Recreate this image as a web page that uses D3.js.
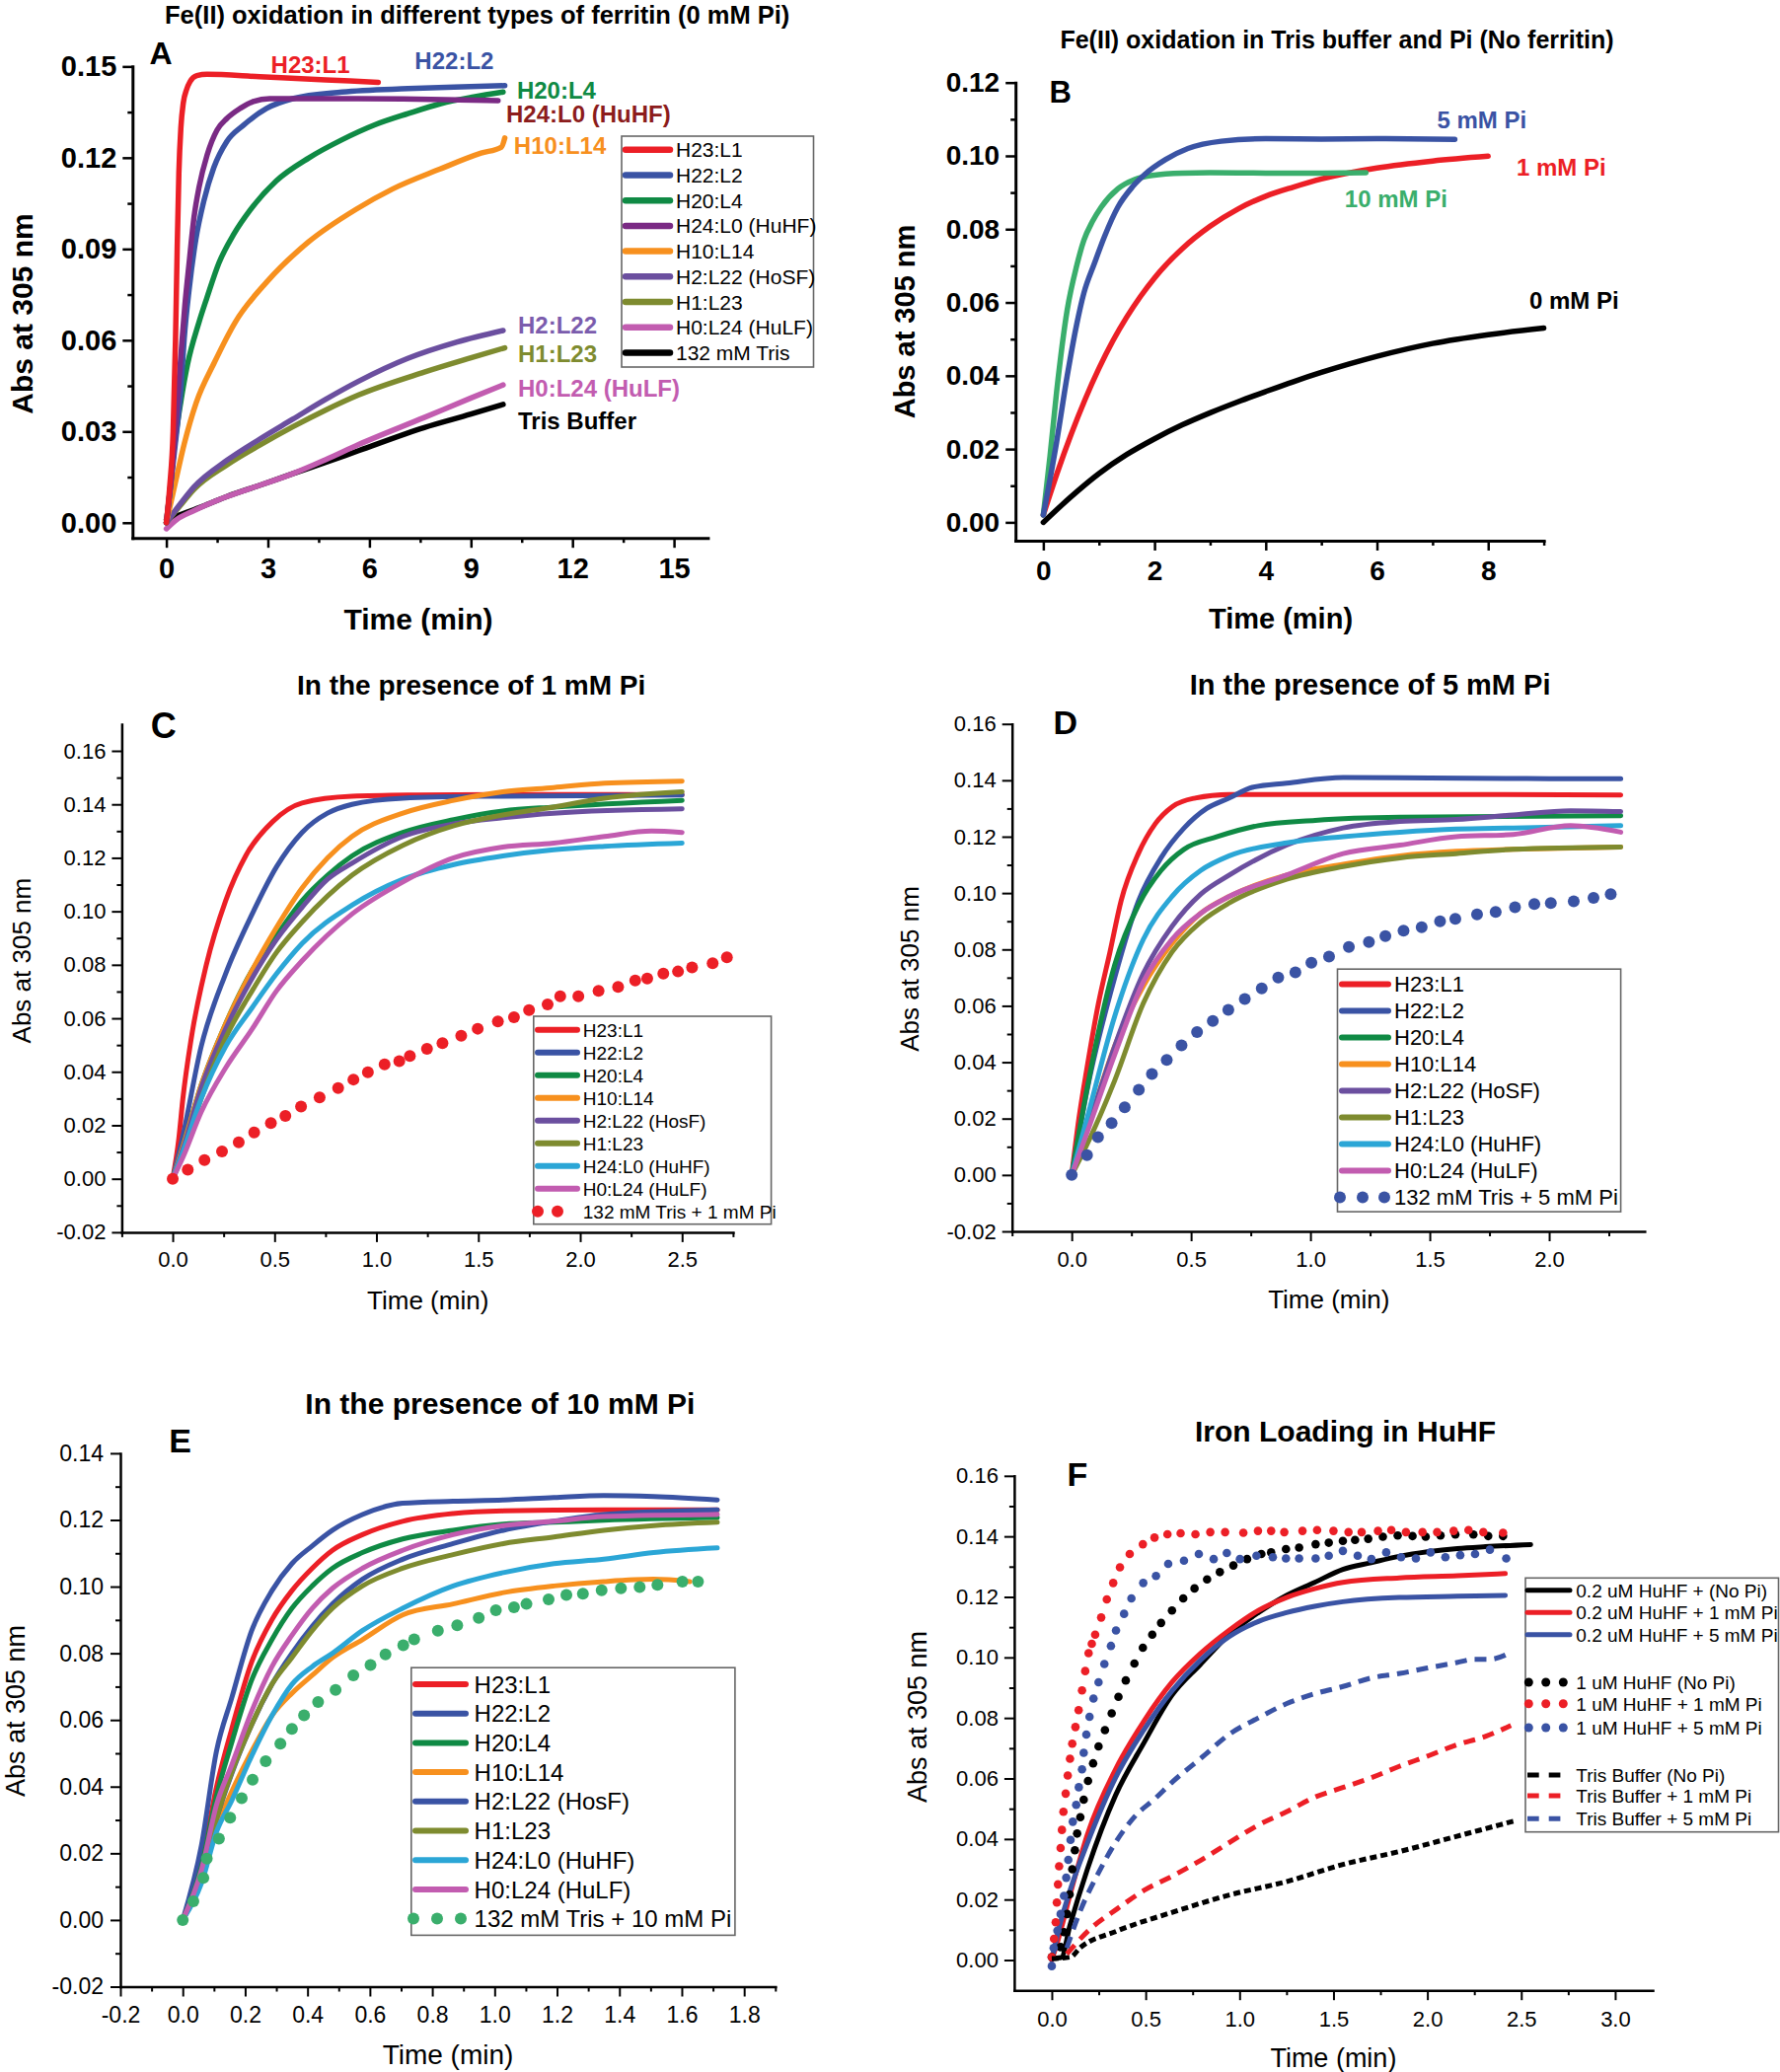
<!DOCTYPE html>
<html><head><meta charset="utf-8">
<script src="https://cdn.jsdelivr.net/npm/d3@7"></script>
<style>body{margin:0;background:#fff}</style>
</head><body>
<svg id="fig" width="1804" height="2100" xmlns="http://www.w3.org/2000/svg"></svg>
<script>
// ================= DATA =================
// ---- Panel A : 0 mM Pi, different ferritins (time min, Abs) ----
const A_H23L1 = [[0,0],[0.1,0.012],[0.2,0.03],[0.27,0.06],[0.32,0.09],[0.37,0.115],[0.43,0.13],[0.5,0.138],[0.6,0.1425],[0.7,0.145],[0.9,0.147],[1.2,0.1474],[2.76,0.1466],[4.71,0.1456],[6.26,0.1448]];
const A_H22L2 = [[0,0],[0.23,0.0226],[0.43,0.0443],[0.527,0.0605],[0.672,0.0767],[0.867,0.0929],[1.11,0.1059],[1.4,0.1167],[1.79,0.1254],[2.28,0.1307],[2.96,0.1362],[3.73,0.1394],[5.19,0.1416],[7.14,0.1427],[8.5,0.1432],[10,0.1437]];
const A_H20L4 = [[0,0],[0.1,0.01],[0.236,0.025],[0.43,0.04],[0.624,0.052],[0.964,0.0659],[1.2,0.074],[1.55,0.0853],[2.0,0.095],[2.47,0.1027],[3.25,0.1124],[4.22,0.12],[5.19,0.1259],[6.16,0.1308],[7.14,0.1345],[8.11,0.1378],[9.08,0.14],[9.95,0.1416]];
const A_H24L0 = [[0,0],[0.15,0.015],[0.285,0.0334],[0.43,0.0551],[0.546,0.0713],[0.672,0.0853],[0.818,0.1005],[0.964,0.1102],[1.207,0.121],[1.499,0.1291],[1.79,0.1329],[2.18,0.1362],[2.57,0.1385],[3.05,0.1394],[5,0.1394],[7,0.1393],[9.8,0.1388]];
const A_H10L14 = [[0,0],[0.26,0.0129],[0.53,0.026],[0.88,0.0394],[1.42,0.0527],[2.04,0.066],[2.97,0.0792],[4.21,0.0924],[5.6,0.103],[6.68,0.1097],[8.07,0.1162],[9.3,0.1215],[9.9,0.1235],[10,0.1265]];
const A_H2L22 = [[0,0],[0.4,0.006],[0.82,0.0118],[1.79,0.0205],[2.76,0.0275],[3.73,0.034],[4.7,0.0405],[5.68,0.0465],[7.13,0.054],[8.59,0.0594],[9.95,0.0632]];
const A_H1L23 = [[0,0],[0.4,0.0055],[0.82,0.011],[1.79,0.019],[2.76,0.0255],[3.73,0.0315],[4.7,0.037],[5.68,0.042],[7.62,0.0495],[9,0.0542],[10,0.0575]];
const A_H0L24 = [[0,-0.002],[0.3,0.001],[0.82,0.004],[1.79,0.0086],[2.81,0.0125],[3.73,0.0161],[4.7,0.0207],[5.68,0.0257],[7.62,0.0346],[9,0.041],[9.95,0.0453]];
const A_Tris = [[0,0.001],[0.5,0.003],[0.82,0.0043],[1.79,0.0086],[2.81,0.0125],[3.73,0.0161],[4.7,0.0198],[5.68,0.0237],[7.62,0.0313],[9,0.0357],[9.95,0.0389]];
const A_names = ["H23:L1","H22:L2","H20:L4","H24:L0 (HuHF)","H10:L14","H2:L22 (HoSF)","H1:L23","H0:L24 (HuLF)","132 mM Tris"];
const A_labels = ["H23:L1","H22:L2","H20:L4","H24:L0 (HuHF)","H10:L14","H2:L22","H1:L23","H0:L24 (HuLF)","Tris Buffer"];
const A_labelAt = [[3.09,0.1477],[7.34,0.1493],[10.36,0.1395],[10.04,0.1316],[10.27,0.1212],[10.39,0.0622],[10.39,0.0528],[10.39,0.0415],[10.39,0.0308]];
const A_xTicks = [0,3,6,9,12,15], A_xMinor = [1.5,4.5,7.5,10.5,13.5];
const A_yTicks = [0,0.03,0.06,0.09,0.12,0.15], A_yMinor = [0.015,0.045,0.075,0.105,0.135];

// ---- Panel B : Tris buffer + Pi, no ferritin ----
const B_0mM = [[0,0],[0.5,0.007],[1,0.0133],[1.5,0.0185],[2,0.0228],[2.5,0.0266],[3,0.0299],[3.5,0.0329],[4,0.0357],[4.5,0.0384],[5,0.0409],[5.5,0.0432],[6,0.0453],[7,0.0488],[8,0.0512],[9,0.053]];
const B_1mM = [[0,0.002],[0.25,0.0135],[0.5,0.024],[0.75,0.0335],[1,0.042],[1.25,0.0495],[1.5,0.056],[1.75,0.0617],[2,0.0667],[2.5,0.0747],[3,0.0808],[3.5,0.0855],[4,0.089],[4.5,0.0915],[5,0.0937],[6,0.0967],[7,0.0986],[8,0.0999]];
const B_5mM = [[0,0.002],[0.24,0.022],[0.43,0.04],[0.6,0.054],[0.73,0.0626],[0.92,0.0707],[1.1,0.078],[1.34,0.086],[1.6,0.0915],[1.83,0.095],[2.2,0.099],[2.6,0.102],[3.2,0.104],[4,0.1047],[5,0.1046],[6,0.1047],[7.4,0.1045]];
const B_10mM = [[0,0.002],[0.12,0.018],[0.24,0.0357],[0.43,0.058],[0.6,0.07],[0.73,0.077],[0.88,0.082],[1.04,0.086],[1.34,0.091],[1.65,0.0936],[1.96,0.0947],[2.5,0.0953],[3,0.0954],[4,0.0953],[5,0.0953],[5.8,0.0954]];
const B_labels = ["0 mM Pi","1 mM Pi","5 mM Pi","10 mM Pi"];
const B_labelAt = [[8.74,0.0583],[8.51,0.0946],[7.08,0.1074],[5.42,0.086]];
const B_xTicks = [0,2,4,6,8], B_xMinor = [1,3,5,7,9];
const B_yTicks = [0,0.02,0.04,0.06,0.08,0.10,0.12], B_yMinor = [0.01,0.03,0.05,0.07,0.09,0.11];

// ---- Panel C : 1 mM Pi ----
const C_H23L1 = [[0,0],[0.03,0.015],[0.05,0.03],[0.09,0.052],[0.165,0.08],[0.26,0.104],[0.36,0.121],[0.49,0.1335],[0.635,0.1405],[0.88,0.143],[1.2,0.1435],[1.6,0.1437],[2.0,0.1437],[2.5,0.1436]];
const C_H22L2 = [[0,0],[0.05,0.016],[0.14,0.0495],[0.26,0.0767],[0.39,0.099],[0.51,0.1167],[0.635,0.1295],[0.76,0.1367],[0.88,0.14],[1.13,0.1423],[1.5,0.143],[2.0,0.1432],[2.5,0.1435]];
const C_H20L4 = [[0,0],[0.05,0.012],[0.14,0.035],[0.26,0.058],[0.39,0.078],[0.51,0.091],[0.635,0.104],[0.76,0.1135],[0.88,0.1207],[1.13,0.1295],[1.38,0.1343],[1.62,0.1375],[1.87,0.139],[2.5,0.1415]];
const C_H10L14 = [[0,0],[0.05,0.012],[0.14,0.035],[0.26,0.058],[0.39,0.078],[0.51,0.094],[0.635,0.1087],[0.76,0.12],[0.88,0.128],[1.13,0.1367],[1.38,0.1415],[1.62,0.1447],[1.87,0.1463],[2.12,0.1479],[2.5,0.1487]];
const C_H2L22 = [[0,0],[0.05,0.011],[0.14,0.034],[0.26,0.056],[0.39,0.075],[0.51,0.0895],[0.635,0.1015],[0.76,0.112],[0.88,0.118],[1.13,0.128],[1.38,0.1327],[1.62,0.135],[1.87,0.1367],[2.5,0.1383]];
const C_H1L23 = [[0,0],[0.05,0.009],[0.14,0.03],[0.26,0.0527],[0.39,0.0703],[0.51,0.0847],[0.635,0.096],[0.88,0.1135],[1.13,0.1247],[1.38,0.132],[1.62,0.136],[1.87,0.139],[2.12,0.1423],[2.5,0.1447]];
const C_H24L0 = [[0,0],[0.05,0.01],[0.14,0.03],[0.26,0.0495],[0.39,0.064],[0.51,0.0767],[0.635,0.088],[0.88,0.1023],[1.13,0.112],[1.38,0.1175],[1.62,0.1207],[1.87,0.123],[2.12,0.1243],[2.5,0.1255]];
const C_H0L24 = [[0,0],[0.05,0.008],[0.14,0.025],[0.26,0.0415],[0.39,0.056],[0.51,0.0703],[0.635,0.0815],[0.88,0.099],[1.13,0.111],[1.38,0.12],[1.62,0.124],[1.87,0.1255],[2.12,0.128],[2.35,0.130],[2.5,0.1295]];
const C_Tris = [[0,0],[0.074,0.0034],[0.156,0.007],[0.242,0.0102],[0.324,0.0136],[0.4,0.0173],[0.482,0.0208],[0.553,0.0235],[0.63,0.027],[0.721,0.0304],[0.812,0.0339],[0.887,0.0371],[0.958,0.0398],[1.04,0.0428],[1.112,0.044],[1.164,0.0459],[1.248,0.0486],[1.324,0.0507],[1.416,0.0535],[1.497,0.0561],[1.596,0.0588],[1.675,0.0604],[1.749,0.0631],[1.84,0.0652],[1.902,0.0682],[1.991,0.0682],[2.09,0.0703],[2.186,0.0717],[2.27,0.0741],[2.329,0.0749],[2.408,0.0767],[2.48,0.0775],[2.549,0.079],[2.65,0.0806],[2.72,0.0828]];
const C_names = ["H23:L1","H22:L2","H20:L4","H10:L14","H2:L22 (HosF)","H1:L23","H24:L0 (HuHF)","H0:L24 (HuLF)","132 mM Tris + 1 mM Pi"];

// ---- Panel D : 5 mM Pi ----
const D_H23L1 = [[0,0],[0.03,0.02],[0.064,0.038],[0.112,0.0609],[0.16,0.079],[0.207,0.0973],[0.279,0.114],[0.35,0.1246],[0.422,0.1307],[0.517,0.1337],[0.66,0.135],[1.0,0.135],[1.5,0.135],[2.3,0.1348]];
const D_H22L2 = [[0,0],[0.064,0.03],[0.18,0.07],[0.28,0.0973],[0.374,0.1125],[0.47,0.123],[0.565,0.13],[0.66,0.1337],[0.756,0.1375],[0.9,0.139],[1.137,0.141],[1.5,0.1408],[2.0,0.1406],[2.3,0.1406]];
const D_H20L4 = [[0,0],[0.064,0.0305],[0.18,0.0745],[0.28,0.0958],[0.374,0.108],[0.47,0.1155],[0.61,0.12],[0.78,0.1239],[1.02,0.1258],[1.375,0.1269],[2.3,0.1274]];
const D_H10L14 = [[0,0],[0.064,0.016],[0.18,0.0457],[0.3,0.067],[0.42,0.0821],[0.54,0.0928],[0.66,0.0988],[0.9,0.1064],[1.137,0.1102],[1.375,0.1132],[1.61,0.1148],[1.85,0.1155],[2.3,0.1163]];
const D_H2L22 = [[0,0],[0.064,0.016],[0.18,0.0457],[0.3,0.0715],[0.42,0.0882],[0.54,0.0996],[0.66,0.1064],[0.9,0.117],[1.137,0.1231],[1.375,0.1254],[1.61,0.1261],[1.85,0.1277],[2.09,0.1292],[2.3,0.1289]];
const D_H1L23 = [[0,0],[0.064,0.0108],[0.18,0.0335],[0.3,0.0609],[0.42,0.0791],[0.54,0.0897],[0.66,0.0965],[0.9,0.1049],[1.137,0.1094],[1.375,0.1125],[1.61,0.114],[1.85,0.1155],[2.3,0.1163]];
const D_H24L0 = [[0,0],[0.064,0.02],[0.18,0.0563],[0.3,0.0836],[0.42,0.0988],[0.54,0.108],[0.66,0.1132],[0.9,0.1178],[1.137,0.12],[1.375,0.1216],[1.61,0.1227],[1.85,0.1231],[2.3,0.1239]];
const D_H0L24 = [[0,0],[0.064,0.015],[0.18,0.0427],[0.3,0.0685],[0.42,0.0836],[0.54,0.0928],[0.66,0.0988],[0.9,0.1064],[1.137,0.114],[1.375,0.117],[1.61,0.12],[1.85,0.1208],[2.09,0.1239],[2.3,0.1216]];
const D_Tris = [[0,0],[0.064,0.007],[0.11,0.0134],[0.167,0.0184],[0.222,0.024],[0.281,0.0302],[0.336,0.0358],[0.398,0.0408],[0.46,0.046],[0.525,0.0507],[0.591,0.0546],[0.656,0.0586],[0.725,0.0624],[0.796,0.0662],[0.865,0.07],[0.937,0.0719],[1.004,0.0753],[1.078,0.0775],[1.161,0.0809],[1.245,0.0826],[1.314,0.0847],[1.39,0.0867],[1.466,0.0879],[1.543,0.09],[1.607,0.0909],[1.698,0.0924],[1.776,0.0933],[1.857,0.095],[1.938,0.0961],[2.007,0.0965],[2.103,0.0971],[2.186,0.0983],[2.258,0.0996]];
const D_names = ["H23:L1","H22:L2","H20:L4","H10:L14","H2:L22 (HoSF)","H1:L23","H24:L0 (HuHF)","H0:L24 (HuLF)","132 mM Tris + 5 mM Pi"];

// ---- Panel E : 10 mM Pi ----
const E_H23L1 = [[0,0],[0.06,0.017],[0.108,0.0398],[0.157,0.0573],[0.221,0.0774],[0.286,0.0901],[0.35,0.0988],[0.415,0.1055],[0.48,0.1109],[0.576,0.1156],[0.705,0.1196],[0.867,0.1219],[1.028,0.1227],[1.35,0.123],[1.714,0.123]];
const E_H22L2 = [[0,0],[0.06,0.0224],[0.108,0.0506],[0.157,0.0666],[0.221,0.0868],[0.286,0.0988],[0.35,0.1069],[0.415,0.1122],[0.48,0.1169],[0.576,0.1216],[0.705,0.125],[0.867,0.1256],[1.028,0.126],[1.19,0.1267],[1.35,0.1273],[1.51,0.127],[1.714,0.126]];
const E_H20L4 = [[0,0],[0.06,0.016],[0.108,0.0371],[0.157,0.0532],[0.221,0.072],[0.286,0.0841],[0.35,0.0935],[0.415,0.1002],[0.48,0.1055],[0.576,0.1102],[0.705,0.1143],[0.867,0.1169],[1.028,0.1187],[1.19,0.1193],[1.35,0.1199],[1.714,0.1207]];
const E_H10L14 = [[0,0],[0.06,0.013],[0.108,0.0278],[0.157,0.0385],[0.221,0.0506],[0.286,0.0613],[0.35,0.068],[0.415,0.0734],[0.48,0.0787],[0.576,0.0841],[0.705,0.0915],[0.867,0.0948],[1.028,0.0982],[1.19,0.1002],[1.35,0.1015],[1.51,0.1022],[1.626,0.1015]];
const E_H2L22 = [[0,0],[0.06,0.013],[0.108,0.0304],[0.157,0.0439],[0.221,0.0586],[0.286,0.0707],[0.35,0.08],[0.415,0.0881],[0.48,0.0948],[0.576,0.1022],[0.705,0.1082],[0.867,0.1129],[1.028,0.1169],[1.19,0.1196],[1.35,0.1216],[1.714,0.123]];
const E_H1L23 = [[0,0],[0.06,0.013],[0.108,0.0304],[0.221,0.0586],[0.286,0.0707],[0.35,0.0787],[0.415,0.0868],[0.48,0.0935],[0.576,0.1002],[0.705,0.1055],[0.867,0.1096],[1.028,0.1129],[1.19,0.1149],[1.35,0.1169],[1.51,0.1183],[1.714,0.1193]];
const E_H24L0 = [[0,0],[0.06,0.011],[0.108,0.0264],[0.157,0.0358],[0.221,0.0492],[0.286,0.0613],[0.35,0.0707],[0.415,0.076],[0.48,0.08],[0.576,0.0868],[0.705,0.0935],[0.867,0.1002],[1.028,0.1042],[1.19,0.1069],[1.35,0.1082],[1.51,0.1102],[1.714,0.1116]];
const E_H0L24 = [[0,0],[0.06,0.015],[0.108,0.0345],[0.157,0.0465],[0.221,0.0626],[0.286,0.076],[0.35,0.0854],[0.415,0.0935],[0.48,0.0995],[0.576,0.1055],[0.705,0.1109],[0.867,0.1156],[1.028,0.1183],[1.19,0.1196],[1.35,0.121],[1.714,0.1216]];
const E_Tris = [[0,0],[0.034,0.0056],[0.066,0.0126],[0.077,0.0184],[0.116,0.0244],[0.152,0.0307],[0.189,0.0365],[0.224,0.0421],[0.266,0.0476],[0.313,0.0529],[0.35,0.0573],[0.389,0.0614],[0.434,0.0654],[0.49,0.069],[0.547,0.0734],[0.602,0.0765],[0.65,0.0797],[0.707,0.0824],[0.742,0.0842],[0.818,0.0868],[0.88,0.0884],[0.949,0.0906],[1.004,0.0929],[1.062,0.0938],[1.102,0.0948],[1.173,0.0962],[1.23,0.0975],[1.283,0.0979],[1.343,0.0989],[1.405,0.0995],[1.465,0.0999],[1.522,0.1005],[1.602,0.1015],[1.652,0.1015]];
const E_names = ["H23:L1","H22:L2","H20:L4","H10:L14","H2:L22 (HosF)","H1:L23","H24:L0 (HuHF)","H0:L24 (HuLF)","132 mM Tris + 10 mM Pi"];

// ---- Panel F : iron loading in HuHF ----
const F_02_NoPi = [[0,0.0005],[0.05,0.0008],[0.097,0.0115],[0.19,0.0301],[0.34,0.0545],[0.49,0.0717],[0.64,0.0875],[0.79,0.0976],[0.945,0.1076],[1.1,0.1148],[1.25,0.1205],[1.4,0.1248],[1.55,0.1291],[1.7,0.1313],[1.85,0.1334],[2.0,0.1349],[2.16,0.136],[2.31,0.1366],[2.55,0.1373]];
const F_02_1mM = [[0,0],[0.036,0.0072],[0.097,0.0215],[0.19,0.0416],[0.34,0.0631],[0.49,0.0789],[0.64,0.0918],[0.79,0.1012],[0.945,0.109],[1.1,0.1155],[1.25,0.1198],[1.4,0.1227],[1.55,0.1248],[1.85,0.1263],[2.16,0.127],[2.415,0.1277]];
const F_02_5mM = [[0,0],[0.036,0.01],[0.097,0.023],[0.19,0.0387],[0.34,0.0603],[0.49,0.076],[0.64,0.089],[0.79,0.099],[0.945,0.1069],[1.1,0.1119],[1.25,0.1148],[1.4,0.1169],[1.55,0.1184],[1.85,0.1198],[2.16,0.1202],[2.415,0.1205]];
const F_1_NoPi = [[0,0.001],[0.047,0.0043],[0.065,0.0092],[0.082,0.0152],[0.095,0.0217],[0.109,0.03],[0.123,0.0363],[0.135,0.0418],[0.152,0.0472],[0.17,0.053],[0.193,0.0592],[0.22,0.065],[0.249,0.0706],[0.283,0.076],[0.319,0.0815],[0.355,0.087],[0.394,0.0924],[0.44,0.098],[0.485,0.1032],[0.535,0.1075],[0.582,0.1114],[0.64,0.1155],[0.7,0.1195],[0.76,0.1228],[0.827,0.1258],[0.895,0.1282],[0.967,0.1304],[1.04,0.1325],[1.116,0.1342],[1.168,0.1347],[1.247,0.1358],[1.317,0.1363],[1.405,0.1374],[1.475,0.1379],[1.55,0.1385],[1.615,0.1388],[1.685,0.1392],[1.763,0.1399],[1.842,0.1403],[1.921,0.1401],[1.991,0.1399],[2.07,0.1403],[2.149,0.1406],[2.245,0.1406],[2.324,0.1401],[2.403,0.1401]];
const F_1_1mM = [[0,0.001],[0.012,0.007],[0.021,0.0125],[0.027,0.019],[0.033,0.025],[0.039,0.031],[0.047,0.037],[0.054,0.043],[0.062,0.049],[0.074,0.055],[0.085,0.061],[0.097,0.0665],[0.109,0.0715],[0.126,0.077],[0.143,0.0826],[0.161,0.0891],[0.178,0.0955],[0.196,0.1014],[0.213,0.1045],[0.231,0.1075],[0.263,0.1132],[0.293,0.1192],[0.327,0.1246],[0.363,0.1298],[0.415,0.1342],[0.485,0.1374],[0.547,0.1396],[0.616,0.1407],[0.686,0.141],[0.765,0.1407],[0.844,0.1414],[0.923,0.1414],[1.02,0.1412],[1.098,0.1418],[1.168,0.1418],[1.238,0.1414],[1.335,0.1418],[1.413,0.1421],[1.5,0.1418],[1.58,0.1414],[1.65,0.1414],[1.737,0.1418],[1.808,0.1421],[1.886,0.1414],[1.974,0.1414],[2.052,0.1414],[2.14,0.1418],[2.219,0.1421],[2.298,0.1414],[2.403,0.1412]];
const F_1_5mM = [[0,-0.002],[0.01,0.004],[0.03,0.0097],[0.047,0.0152],[0.065,0.0212],[0.077,0.0272],[0.088,0.0331],[0.1,0.0397],[0.112,0.0457],[0.13,0.0513],[0.144,0.0571],[0.161,0.063],[0.17,0.0685],[0.184,0.0745],[0.201,0.0804],[0.222,0.0864],[0.249,0.0918],[0.28,0.0978],[0.315,0.1038],[0.342,0.1089],[0.385,0.1144],[0.424,0.1195],[0.487,0.1246],[0.555,0.1269],[0.62,0.1309],[0.704,0.132],[0.783,0.1342],[0.862,0.1325],[0.932,0.1345],[1.002,0.1325],[1.09,0.1336],[1.177,0.1331],[1.247,0.1327],[1.317,0.1327],[1.405,0.1327],[1.475,0.1336],[1.55,0.1352],[1.629,0.1336],[1.702,0.1325],[1.781,0.1347],[1.86,0.1331],[1.939,0.1327],[2.017,0.1347],[2.096,0.1331],[2.175,0.1338],[2.254,0.1342],[2.333,0.1356],[2.42,0.1327]];
const F_T_NoPi = [[0,0.0005],[0.1,0.001],[0.15,0.004],[0.339,0.0094],[0.643,0.0158],[0.945,0.0215],[1.249,0.0259],[1.551,0.0316],[1.854,0.0359],[2.157,0.0409],[2.46,0.0459]];
const F_T_1mM = [[0.08,0.002],[0.2,0.01],[0.35,0.017],[0.491,0.023],[0.65,0.028],[0.794,0.033],[0.95,0.039],[1.097,0.0445],[1.25,0.049],[1.4,0.0538],[1.55,0.057],[1.703,0.0603],[1.85,0.064],[2.006,0.0675],[2.15,0.071],[2.309,0.0739],[2.445,0.0775]];
const F_T_5mM = [[0.08,0.004],[0.15,0.016],[0.25,0.029],[0.339,0.0388],[0.45,0.048],[0.547,0.0532],[0.643,0.0589],[0.8,0.067],[0.945,0.0746],[1.1,0.08],[1.249,0.0847],[1.4,0.088],[1.551,0.0904],[1.7,0.0932],[1.854,0.0947],[2.0,0.0965],[2.157,0.0983],[2.25,0.0994],[2.333,0.0994],[2.43,0.1012]];
const F_names = ["0.2 uM HuHF + (No Pi)","0.2 uM HuHF + 1 mM Pi","0.2 uM HuHF + 5 mM Pi","1 uM HuHF (No Pi)","1 uM HuHF + 1 mM Pi","1 uM HuHF + 5 mM Pi","Tris Buffer (No Pi)","Tris Buffer + 1 mM Pi","Tris Buffer + 5 mM Pi"];

// shared ticks for C–F
const CD_yTicks = [-0.02,0,0.02,0.04,0.06,0.08,0.10,0.12,0.14,0.16];
const C_yMinor = [-0.01,0.01,0.03,0.05,0.07,0.09,0.11,0.13,0.15];
const C_xTicks = [0,0.5,1.0,1.5,2.0,2.5], C_xMinor = [-0.25,0.25,0.75,1.25,1.75,2.25,2.75];
const D_xTicks = [0,0.5,1.0,1.5,2.0], D_xMinor = [-0.25,0.25,0.75,1.25,1.75,2.25];
const E_xTicks = [-0.2,0,0.2,0.4,0.6,0.8,1.0,1.2,1.4,1.6,1.8], E_xMinor = [-0.1,0.1,0.3,0.5,0.7,0.9,1.1,1.3,1.5,1.7,1.9];
const E_yTicks = [-0.02,0,0.02,0.04,0.06,0.08,0.10,0.12,0.14], E_yMinor = [-0.01,0.01,0.03,0.05,0.07,0.09,0.11,0.13];
const F_xTicks = [0,0.5,1.0,1.5,2.0,2.5,3.0], F_xMinor = [0.25,0.75,1.25,1.75,2.25,2.75];
const F_yTicks = [0,0.02,0.04,0.06,0.08,0.10,0.12,0.14,0.16], F_yMinor = [0.01,0.03,0.05,0.07,0.09,0.11,0.13,0.15];

// ================= STYLE =================
const RED = "#ec1f26", BLUE = "#3a53a4", GREEN = "#0f8a44", ORANGE = "#f7901e", PURPLE = "#6b4f9f",
      OLIVE = "#7e8b2f", CYAN = "#2ba6d6", PINK = "#c25cb0", DPURPLE = "#7a2a84", MAROON = "#8c1c1c",
      LGREEN = "#3aae6c", BLACK = "#000";
const FONT = "'Liberation Sans', Arial, Helvetica, sans-serif";

const svg = d3.select("#fig");
svg.append("rect").attr("width",1804).attr("height",2100).attr("fill","#fff");

function panel(c) {
  const g = svg.append("g");
  const x = d3.scaleLinear().domain(c.xDomain).range(c.xRange);
  const y = d3.scaleLinear().domain(c.yDomain).range(c.yRange);
  const fw = c.bold ? "bold" : "normal";
  const styleAxis = (sel, fs) => {
    sel.selectAll(".domain").attr("stroke","#000").attr("stroke-width",c.axisW).attr("stroke-linecap","square");
    sel.selectAll(".tick line").attr("stroke","#000").attr("stroke-width",c.tickW);
    sel.selectAll(".tick text").attr("font-family",FONT).attr("font-size",fs).attr("font-weight",fw).attr("fill","#000");
  };
  g.append("g").attr("transform",`translate(0,${c.yRange[0]})`)
    .call(d3.axisBottom(x).tickValues(c.xMinor).tickFormat(()=>"").tickSizeInner(5).tickSizeOuter(0))
    .call(s=>{s.select(".domain").remove(); styleAxis(s,c.tickFs);});
  g.append("g").attr("transform",`translate(${c.xRange[0]},0)`)
    .call(d3.axisLeft(y).tickValues(c.yMinor).tickFormat(()=>"").tickSizeInner(5).tickSizeOuter(0))
    .call(s=>{s.select(".domain").remove(); styleAxis(s,c.tickFs);});
  g.append("g").attr("transform",`translate(0,${c.yRange[0]})`)
    .call(d3.axisBottom(x).tickValues(c.xTicks).tickFormat(c.xFmt).tickSizeInner(10).tickSizeOuter(0).tickPadding(c.xPad))
    .call(s=>styleAxis(s,c.tickFs));
  g.append("g").attr("transform",`translate(${c.xRange[0]},0)`)
    .call(d3.axisLeft(y).tickValues(c.yTicks).tickFormat(c.yFmt).tickSizeInner(10).tickSizeOuter(0).tickPadding(c.yPad))
    .call(s=>styleAxis(s,c.tickFs));

  g.append("text").attr("x",c.title[1]).attr("y",c.title[2]).attr("text-anchor","middle")
    .attr("font-family",FONT).attr("font-weight","bold").attr("font-size",c.title[3]).text(c.title[0]);
  g.append("text").attr("x",c.letter[1]).attr("y",c.letter[2]).attr("text-anchor","middle")
    .attr("font-family",FONT).attr("font-weight","bold").attr("font-size",c.letter[3]).text(c.letter[0]);
  g.append("text").attr("x",c.xLab[0]).attr("y",c.xLab[1]).attr("text-anchor","middle")
    .attr("font-family",FONT).attr("font-weight",fw).attr("font-size",c.labFs).text("Time (min)");
  g.append("text").attr("transform",`translate(${c.yLab[0]},${c.yLab[1]}) rotate(-90)`).attr("text-anchor","middle")
    .attr("font-family",FONT).attr("font-weight",fw).attr("font-size",c.yLabFs || c.labFs).text("Abs at 305 nm");

  const line = d3.line().x(d=>x(d[0])).y(d=>y(d[1])).curve(d3.curveMonotoneX);
  c.series.forEach(s => {
    if (s.type === "dots") {
      g.append("g").selectAll("circle").data(s.data).join("circle")
        .attr("cx",d=>x(d[0])).attr("cy",d=>y(d[1])).attr("r",c.dotR).attr("fill",s.color);
    } else {
      g.append("path").datum(s.data).attr("d",line).attr("fill","none").attr("stroke",s.color)
        .attr("stroke-width",c.lineW).attr("stroke-linejoin","round")
        .attr("stroke-linecap", s.type === "dash" ? "butt" : "round")
        .attr("stroke-dasharray", s.type === "dash" ? s.dash : null);
    }
  });

  (c.annot || []).forEach(a => {
    g.append("text").attr("x",x(a.at[0])).attr("y",y(a.at[1])).attr("font-family",FONT)
      .attr("font-weight","bold").attr("font-size",c.annotFs).attr("fill",a.color).text(a.text);
  });

  if (c.legend) {
    const L = c.legend;
    g.append("rect").attr("x",L.box[0]).attr("y",L.box[1]).attr("width",L.box[2]).attr("height",L.box[3])
      .attr("fill","#fff").attr("stroke","#666").attr("stroke-width",1.6);
    c.series.forEach((s,i) => {
      const yy = L.rows[i];
      if (s.type === "dots") {
        L.dotX.forEach(dx => g.append("circle").attr("cx",dx).attr("cy",yy).attr("r",L.dotR).attr("fill",s.color));
      } else {
        g.append("line").attr("x1",L.sample[0]).attr("x2",L.sample[1]).attr("y1",yy).attr("y2",yy)
          .attr("stroke",s.color).attr("stroke-width",L.lw)
          .attr("stroke-linecap", s.type==="dash" ? "butt" : "round")
          .attr("stroke-dasharray", s.type==="dash" ? L.dash : null);
      }
      g.append("text").attr("x",L.textX).attr("y",yy).attr("dy","0.36em").attr("font-family",FONT)
        .attr("font-size",L.fs).attr("fill","#000").text(s.name);
    });
  }
}

const f2 = v => v.toFixed(2), f1 = v => v.toFixed(1), fd = v => String(v);
const rows = (y0, dy, n) => Array.from({length:n}, (_,i) => y0 + i*dy);

// ---------- Panel A ----------
const A_colors = [RED, BLUE, GREEN, DPURPLE, ORANGE, PURPLE, OLIVE, PINK, BLACK];
const A_annColors = [RED, BLUE, GREEN, MAROON, ORANGE, "#7b5cad", OLIVE, PINK, BLACK];
const A_data = [A_H23L1, A_H22L2, A_H20L4, A_H24L0, A_H10L14, A_H2L22, A_H1L23, A_H0L24, A_Tris];
panel({
  xDomain:[-1,16], xRange:[134.3,717.4], yDomain:[-0.005,0.15], yRange:[545.2,67.35],
  xTicks:A_xTicks, xMinor:A_xMinor, yTicks:A_yTicks, yMinor:A_yMinor, xFmt:fd, yFmt:f2,
  bold:true, tickFs:29, labFs:30, axisW:3, tickW:2.5, xPad:10, yPad:6, lineW:5.5, dotR:5,
  title:["Fe(II) oxidation in different types of ferritin (0 mM Pi)",483.7,24,25.5],
  letter:["A",163,65,32], xLab:[424,638], yLab:[33,318],
  series: [A_Tris, A_H0L24, A_H1L23, A_H2L22, A_H10L14, A_H20L4, A_H22L2, A_H24L0, A_H23L1].map(d => {
    const i = A_data.indexOf(d); return {data:d,color:A_colors[i],name:A_names[i],type:"line"}; }),
  annotFs:24,
  annot: A_labels.map((t,i)=>({text:t,at:A_labelAt[i],color:A_annColors[i]}))
});
(function(){
  const g = svg.append("g");
  g.append("rect").attr("x",630).attr("y",138).attr("width",194.5).attr("height",234)
    .attr("fill","#fff").attr("stroke","#666").attr("stroke-width",1.6);
  rows(151.8,25.7,9).forEach((yy,i) => {
    g.append("line").attr("x1",634).attr("x2",679).attr("y1",yy).attr("y2",yy)
      .attr("stroke",A_colors[i]).attr("stroke-width",6.5).attr("stroke-linecap","round");
    g.append("text").attr("x",685).attr("y",yy).attr("dy","0.36em").attr("font-family",FONT)
      .attr("font-size",21).text(A_names[i]);
  });
})();

// ---------- Panel B ----------
panel({
  xDomain:[-0.5,9], xRange:[1029.2,1564.6], yDomain:[-0.005,0.12], yRange:[547.97,83.7],
  xTicks:B_xTicks, xMinor:B_xMinor, yTicks:B_yTicks, yMinor:B_yMinor, xFmt:fd, yFmt:f2,
  bold:true, tickFs:28, labFs:29, axisW:3, tickW:2.5, xPad:10, yPad:6, lineW:5.5, dotR:5,
  title:["Fe(II) oxidation in Tris buffer and Pi (No ferritin)",1355,49,25],
  letter:["B",1074.7,104,31], xLab:[1298,637], yLab:[927,326],
  series:[{data:B_0mM,color:BLACK,type:"line"},{data:B_1mM,color:RED,type:"line"},
          {data:B_10mM,color:LGREEN,type:"line"},{data:B_5mM,color:BLUE,type:"line"}],
  annotFs:24,
  annot: B_labels.map((t,i)=>({text:t,at:B_labelAt[i],color:[BLACK,RED,BLUE,LGREEN][i]}))
});

// ---------- Panel C ----------
const CDE_colors = [RED, BLUE, GREEN, ORANGE, PURPLE, OLIVE, CYAN, PINK];
const C_data = [C_H23L1, C_H22L2, C_H20L4, C_H10L14, C_H2L22, C_H1L23, C_H24L0, C_H0L24];
panel({
  xDomain:[-0.25,2.75], xRange:[123.4,742.9], yDomain:[-0.02,0.17], yRange:[1248.9,733.9],
  xTicks:C_xTicks, xMinor:C_xMinor, yTicks:CD_yTicks, yMinor:C_yMinor, xFmt:f1, yFmt:f2,
  bold:false, tickFs:22, labFs:26, axisW:2.5, tickW:2, xPad:9, yPad:6, lineW:5, dotR:6,
  title:["In the presence of 1 mM Pi",477.6,703.8,28],
  letter:["C",165.8,747.5,36], xLab:[433.7,1327], yLab:[30.7,973.6],
  series: C_data.map((d,i)=>({data:d,color:CDE_colors[i],name:C_names[i],type:"line"}))
          .concat([{data:C_Tris,color:RED,name:C_names[8],type:"dots"}]),
  legend:{box:[540.8,1030,240.8,210.7], rows:rows(1043.8,23,9), sample:[545,585], textX:590.8, fs:19, lw:6, dotX:[545,565], dotR:6}
});

// ---------- Panel D ----------
const D_data = [D_H23L1, D_H22L2, D_H20L4, D_H10L14, D_H2L22, D_H1L23, D_H24L0, D_H0L24];
panel({
  xDomain:[-0.25,2.4], xRange:[1025.7,1666.8], yDomain:[-0.02,0.16], yRange:[1248,733.7],
  xTicks:D_xTicks, xMinor:D_xMinor, yTicks:CD_yTicks, yMinor:C_yMinor.slice(0,8), xFmt:f1, yFmt:f2,
  bold:false, tickFs:22, labFs:26, axisW:2.5, tickW:2, xPad:10, yPad:6, lineW:5, dotR:6,
  title:["In the presence of 5 mM Pi",1388.6,703.8,29],
  letter:["D",1079.9,744,34], xLab:[1346.8,1325.7], yLab:[930.6,982],
  series: D_data.map((d,i)=>({data:d,color:CDE_colors[i],name:D_names[i],type:"line"}))
          .concat([{data:D_Tris,color:BLUE,name:D_names[8],type:"dots"}]),
  legend:{box:[1355.5,982.2,287.1,245.9], rows:rows(997.4,27,9), sample:[1360,1407], textX:1413, fs:22, lw:6, dotX:[1358,1381,1403], dotR:6}
});

// ---------- Panel E ----------
const E_colors = [RED, BLUE, GREEN, ORANGE, BLUE, OLIVE, CYAN, PINK];
const E_data = [E_H23L1, E_H22L2, E_H20L4, E_H10L14, E_H2L22, E_H1L23, E_H24L0, E_H0L24];
panel({
  xDomain:[-0.2,1.9], xRange:[122,785.8], yDomain:[-0.02,0.14], yRange:[2013.5,1472.9],
  xTicks:E_xTicks, xMinor:E_xMinor, yTicks:E_yTicks, yMinor:E_yMinor, xFmt:f1, yFmt:f2,
  bold:false, tickFs:23, labFs:28, yLabFs:27, axisW:2.5, tickW:2, xPad:10.5, yPad:7, lineW:5, dotR:6,
  title:["In the presence of 10 mM Pi",506.9,1433,30],
  letter:["E",182.7,1472,34], xLab:[454,2092], yLab:[25,1734],
  series: E_data.map((d,i)=>({data:d,color:E_colors[i],name:E_names[i],type:"line"}))
          .concat([{data:E_Tris,color:LGREEN,name:E_names[8],type:"dots"}]),
  legend:{box:[416.8,1690.2,328.1,271.2], rows:rows(1707,29.7,9), sample:[421,472], textX:480.6, fs:24, lw:6, dotX:[419,443,467], dotR:6}
});

// ---------- Panel F ----------
panel({
  xDomain:[-0.2,3.2], xRange:[1027.9,1675], yDomain:[-0.01,0.16], yRange:[2017.2,1495.8],
  xTicks:F_xTicks, xMinor:F_xMinor, yTicks:F_yTicks, yMinor:F_yMinor, xFmt:f1, yFmt:f2,
  bold:false, tickFs:22, labFs:27, axisW:2.5, tickW:2, xPad:11, yPad:6, lineW:5, dotR:4.3,
  title:["Iron Loading in HuHF",1363.5,1460.6,30],
  letter:["F",1092,1505.6,34], xLab:[1351.4,2095], yLab:[938.5,1740],
  series:[
    {data:F_02_NoPi,color:BLACK,name:F_names[0],type:"line"},
    {data:F_02_1mM,color:RED,name:F_names[1],type:"line"},
    {data:F_02_5mM,color:BLUE,name:F_names[2],type:"line"},
    {data:F_1_NoPi,color:BLACK,name:F_names[3],type:"dots"},
    {data:F_1_1mM,color:RED,name:F_names[4],type:"dots"},
    {data:F_1_5mM,color:BLUE,name:F_names[5],type:"dots"},
    {data:F_T_NoPi,color:BLACK,name:F_names[6],type:"dash",dash:"7,4"},
    {data:F_T_1mM,color:RED,name:F_names[7],type:"dash",dash:"12,8"},
    {data:F_T_5mM,color:BLUE,name:F_names[8],type:"dash",dash:"12,8"}
  ],
  legend:{box:[1546,1599.3,256.5,257.4], rows:[1611.7,1634.3,1656.7,1705,1726.7,1751,1799,1820,1843.3],
          sample:[1548,1591], textX:1597.3, fs:19, lw:5, dotX:[1549.3,1566.7,1584.3], dotR:4.5, dash:"11.7,10"}
});
</script>
</body></html>
